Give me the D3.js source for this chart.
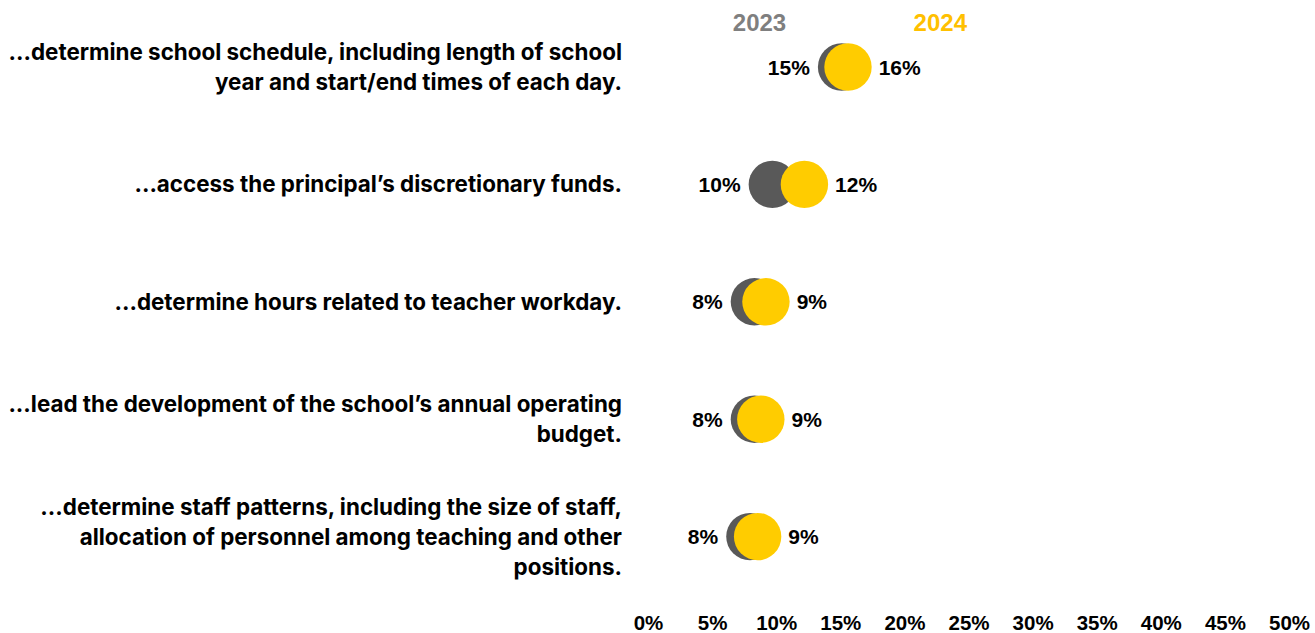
<!DOCTYPE html>
<html>
<head>
<meta charset="utf-8">
<script src="https://cdn.jsdelivr.net/npm/d3@7"></script>
<style>
  html, body { margin: 0; padding: 0; background: #ffffff; }
  svg { display: block; }
</style>
</head>
<body>
<svg id="chart" width="1315" height="633"></svg>
<script>
// Survey items (each entry holds the wrapped lines of its label)
const categories = [
  ["...determine school schedule, including length of school", "year and start/end times of each day."],
  ["...access the principal\u2019s discretionary funds."],
  ["...determine hours related to teacher workday."],
  ["...lead the development of the school\u2019s annual operating", "budget."],
  ["...determine staff patterns, including the size of staff,", "allocation of personnel among teaching and other", "positions."]
];

// Share of respondents (%) per year
const values2023 = [15.1, 9.7, 8.3, 8.3, 7.95];
const values2024 = [15.6, 12.2, 9.2, 8.8, 8.55];

const seriesNames = ["2023", "2024"];
const xTicks = [0, 5, 10, 15, 20, 25, 30, 35, 40, 45, 50];

const colors = {
  dot2023: "#595959",
  dot2024: "#ffcc00",
  legend2023: "#7f7f7f",
  legend2024: "#ffc000",
  text: "#000000"
};

const svg = d3.select("#chart");

const x = d3.scaleLinear().domain([0, 50]).range([648, 1289]);
const y = d3.scalePoint().domain(d3.range(categories.length)).range([67, 536.6]);

const r = 23.7;
const valueFont = "'Liberation Sans', Arial, sans-serif";
const labelFont = "Inter, 'Noto Sans', sans-serif";
const fmt = v => Math.round(v) + "%";

// x axis tick labels (no line, no tick marks)
const xAxis = d3.axisBottom(x).tickValues(xTicks).tickFormat(d => d + "%").tickSize(0).tickPadding(0);
const axisG = svg.append("g").attr("transform", "translate(0,630)").call(xAxis);
axisG.select(".domain").remove();
axisG.selectAll("text")
  .attr("y", 0)
  .attr("dy", "0")
  .style("font-family", valueFont)
  .style("font-weight", "700")
  .style("font-size", "20.5px")
  .style("fill", colors.text);

// Legend
const legend = svg.append("g");
legend.append("text")
  .attr("x", x(8.7)).attr("y", 31)
  .attr("text-anchor", "middle")
  .style("font-family", valueFont).style("font-weight", "700").style("font-size", "24px")
  .style("fill", colors.legend2023)
  .text(seriesNames[0]);
legend.append("text")
  .attr("x", x(22.8)).attr("y", 31)
  .attr("text-anchor", "middle")
  .style("font-family", valueFont).style("font-weight", "700").style("font-size", "24px")
  .style("fill", colors.legend2024)
  .text(seriesNames[1]);

// Category labels, right aligned against the plot
const lineH = 30;
const catG = svg.append("g");
categories.forEach((lines, i) => {
  const t = catG.append("text")
    .attr("text-anchor", "end")
    .style("font-family", labelFont)
    .style("font-weight", "700")
    .style("font-size", "22.4px")
    .style("fill", colors.text);
  const y0 = y(i) - (lines.length - 1) * lineH / 2;
  lines.forEach((ln, j) => {
    t.append("tspan")
      .attr("x", 622)
      .attr("y", y0 + j * lineH)
      .attr("dy", "0.36em")
      .text(ln);
  });
});

// Dots: 2023 underneath, 2024 on top
const rows = categories.map((c, i) => ({ i, a: values2023[i], b: values2024[i] }));

svg.append("g").selectAll("circle")
  .data(rows).join("circle")
  .attr("cx", d => x(d.a)).attr("cy", d => y(d.i)).attr("r", r)
  .attr("fill", colors.dot2023);

svg.append("g").selectAll("circle")
  .data(rows).join("circle")
  .attr("cx", d => x(d.b)).attr("cy", d => y(d.i)).attr("r", r)
  .attr("fill", colors.dot2024);

// Value labels on either side of the pair
svg.append("g").selectAll("text")
  .data(rows).join("text")
  .attr("x", d => x(d.a) - r - 8)
  .attr("y", d => y(d.i))
  .attr("dy", "0.36em")
  .attr("text-anchor", "end")
  .style("font-family", valueFont).style("font-weight", "700").style("font-size", "21px")
  .style("fill", colors.text)
  .text(d => fmt(d.a));

svg.append("g").selectAll("text")
  .data(rows).join("text")
  .attr("x", d => x(d.b) + r + 7)
  .attr("y", d => y(d.i))
  .attr("dy", "0.36em")
  .attr("text-anchor", "start")
  .style("font-family", valueFont).style("font-weight", "700").style("font-size", "21px")
  .style("fill", colors.text)
  .text(d => fmt(d.b));
</script>
</body>
</html>
